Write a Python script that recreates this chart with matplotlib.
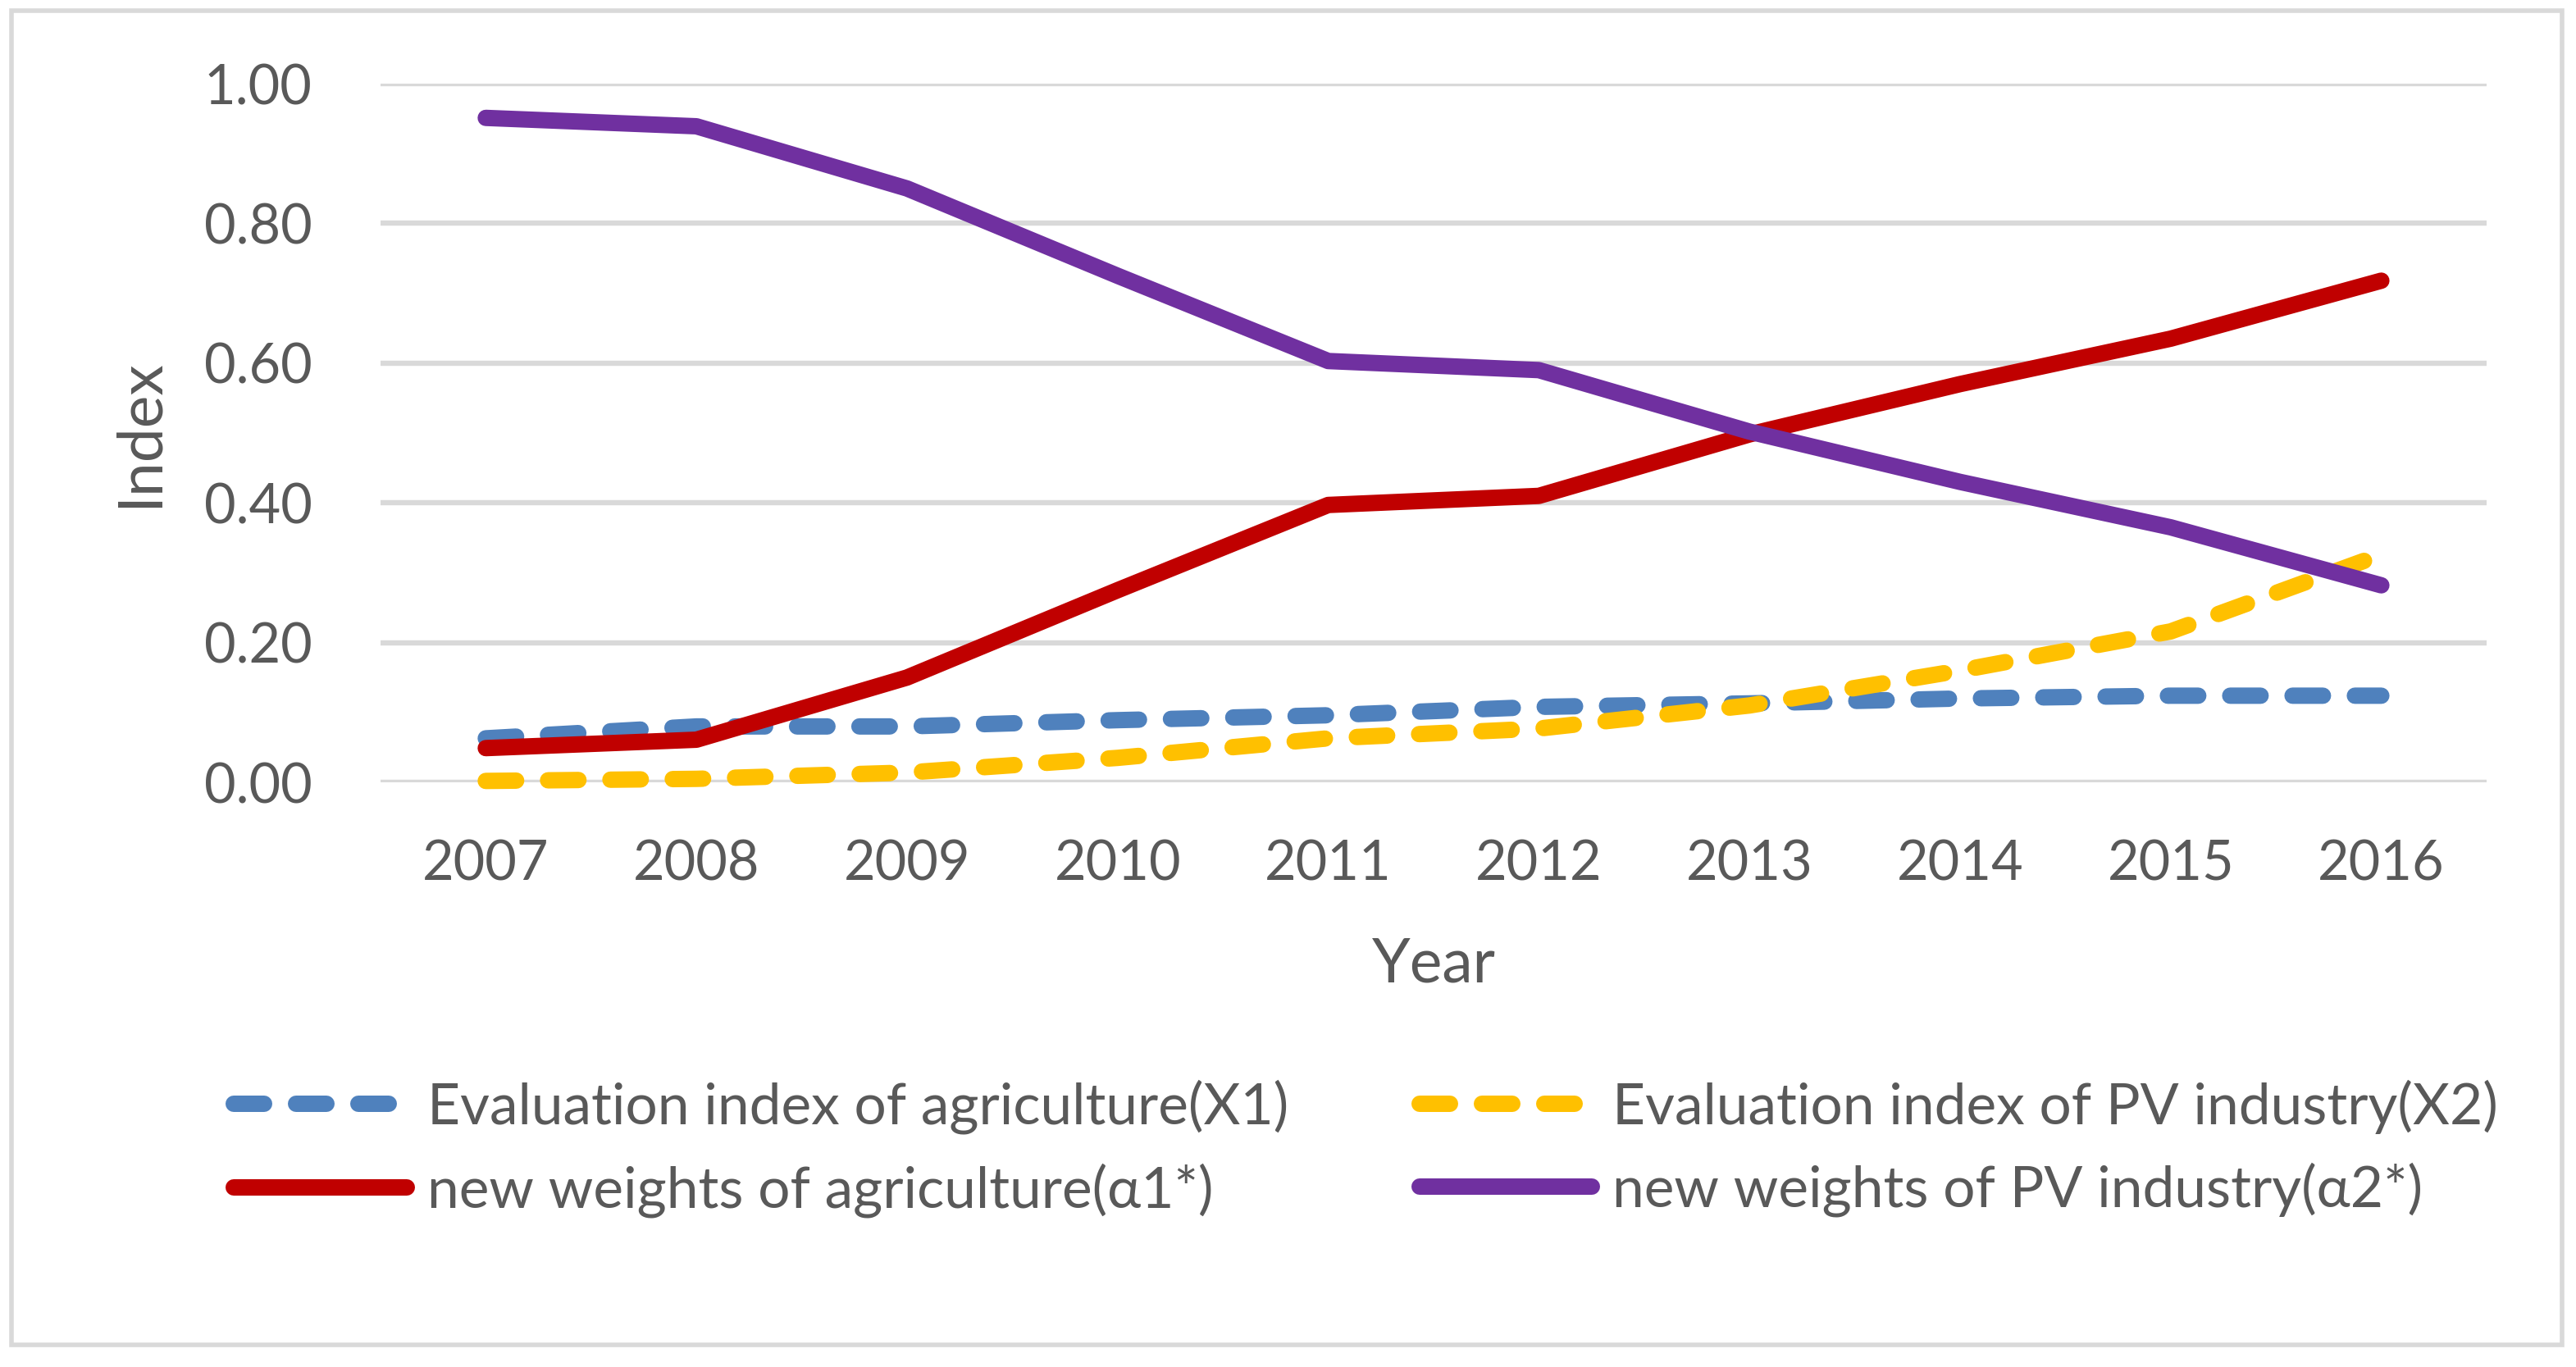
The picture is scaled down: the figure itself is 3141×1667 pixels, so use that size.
import matplotlib
matplotlib.use("Agg")
import matplotlib.pyplot as plt
from matplotlib.patches import Rectangle

# data
years = ["2007", "2008", "2009", "2010", "2011", "2012", "2013", "2014", "2015", "2016"]
x1_agri = [0.063, 0.080, 0.080, 0.089, 0.096, 0.108, 0.113, 0.120, 0.124, 0.124]
x2_pv = [0.002, 0.005, 0.014, 0.035, 0.063, 0.077, 0.110, 0.160, 0.216, 0.326]
a1_agri = [0.049, 0.061, 0.150, 0.275, 0.397, 0.410, 0.498, 0.570, 0.635, 0.718]
a2_pv = [0.951, 0.939, 0.850, 0.725, 0.603, 0.590, 0.502, 0.430, 0.365, 0.282]
y_ticks = [0.0, 0.2, 0.4, 0.6, 0.8, 1.0]

grey = "#595959"
plt.rcParams["font.family"] = ["Lato", "DejaVu Sans"]

fig = plt.figure(figsize=(15.705, 8.335), dpi=200)
ax = fig.add_axes([0.1477, 0.4277, 0.8176, 0.5111])

xs = list(range(len(years)))
lw = 7.2
dash = (1.85, 1.95)
l1, = ax.plot(xs, x1_agri, color="#4F81BD", lw=lw, dashes=dash,
              dash_capstyle="round", clip_on=False,
              label="Evaluation index of agriculture(X1)")
l2, = ax.plot(xs, x2_pv, color="#FFC000", lw=lw, dashes=dash,
              dash_capstyle="round", clip_on=False,
              label="Evaluation index of PV industry(X2)")
l3, = ax.plot(xs, a1_agri, color="#C00000", lw=lw, solid_capstyle="round",
              clip_on=False, label="new weights of agriculture(\u03b11*)")
l4, = ax.plot(xs, a2_pv, color="#7030A0", lw=lw, solid_capstyle="round",
              clip_on=False, label="new weights of PV industry(\u03b12*)")

ax.set_xlim(-0.5, len(years) - 0.5)
ax.set_ylim(0, 1)
ax.set_xticks(xs)
ax.set_xticklabels(years)
ax.set_yticks(y_ticks)
ax.set_yticklabels(["%.2f" % v for v in y_ticks])
ax.tick_params(axis="both", length=0, labelsize=24, colors=grey)
ax.tick_params(axis="x", pad=25)
ax.tick_params(axis="y", pad=30)
for s in ax.spines.values():
    s.set_visible(False)
ax.grid(axis="y", color="#D9D9D9", lw=2.3)
ax.set_axisbelow(True)

ax.set_xlabel("Year", fontsize=27, color=grey, labelpad=20)
ax.set_ylabel("Index", fontsize=27, color=grey, labelpad=16)

leg = fig.legend([l1, l3, l2, l4], [l1.get_label(), l3.get_label(), l2.get_label(), l4.get_label()],
                 ncol=2, loc="upper left", bbox_to_anchor=(0.082, 0.227),
                 frameon=False, fontsize=25, handlelength=3.03, handletextpad=0.36,
                 columnspacing=2.3, labelspacing=0.5, borderaxespad=0)
for t in leg.get_texts():
    t.set_color(grey)

fig.patches.append(Rectangle((0.0045, 0.0162), 0.9901, 0.976, transform=fig.transFigure,
                             fill=False, edgecolor="#D9D9D9", lw=2.0))

fig.savefig("out.png", dpi=200)
